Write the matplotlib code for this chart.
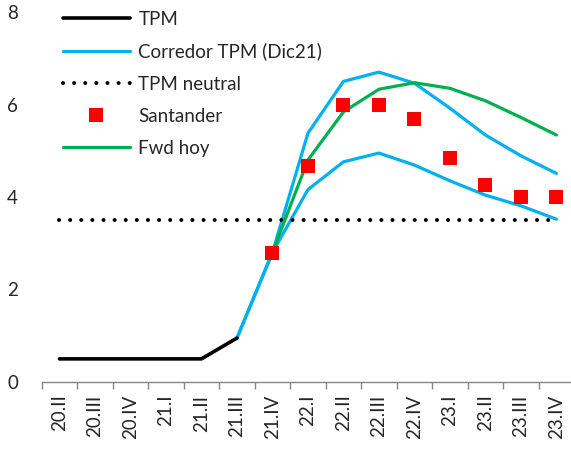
import numpy as np
import matplotlib
matplotlib.use("Agg")
import matplotlib.pyplot as plt

nan = np.nan
categories = ["20.II", "20.III", "20.IV", "21.I", "21.II", "21.III", "21.IV",
              "22.I", "22.II", "22.III", "22.IV", "23.I", "23.II", "23.III", "23.IV"]
tpm = [0.5, 0.5, 0.5, 0.5, 0.5, 0.95, nan, nan, nan, nan, nan, nan, nan, nan, nan]
corr_upper = [nan, nan, nan, nan, nan, 0.95, 2.8, 5.38, 6.5, 6.7, 6.46, 5.92, 5.34, 4.89, 4.51]
corr_lower = [nan, nan, nan, nan, nan, 0.95, 2.8, 4.16, 4.76, 4.95, 4.69, 4.35, 4.04, 3.81, 3.52]
tpm_neutral = [3.5] * 15
santander = [nan, nan, nan, nan, nan, nan, 2.8, 4.68, 6.0, 6.0, 5.69, 4.85, 4.26, 4.0, 4.0]
fwd_hoy = [nan, nan, nan, nan, nan, nan, 2.8, 4.8, 5.84, 6.33, 6.47, 6.35, 6.08, 5.72, 5.34]

plt.rcParams['font.family'] = ['Lato', 'DejaVu Sans']
W, H = 571, 449
fig = plt.figure(figsize=(W / 100, H / 100), dpi=100)
left, right, top, bottom = 41.7, 574.2, 12, 382
ax = fig.add_axes([left / W, 1 - bottom / H, (right - left) / W, (bottom - top) / H])

x = np.arange(len(categories))
blue = "#00B0F0"
green = "#00B050"
text_col = "#262626"

ax.plot(x, tpm, color="black", lw=2.6, solid_capstyle="round", label="TPM", zorder=3)
ax.plot(x, corr_upper, color=blue, lw=2.3, solid_capstyle="round", label="Corredor TPM (Dic21)", zorder=2)
ax.plot(x, corr_lower, color=blue, lw=2.3, solid_capstyle="round", zorder=2)
ax.plot(x, tpm_neutral, color="black", lw=2.9, linestyle=(0, (0.01, 2.75)),
        dash_capstyle="round", label="TPM neutral", zorder=2)
ax.plot(x, santander, linestyle="none", marker="s", markersize=10, color="#FF0000",
        markeredgewidth=0, label="Santander", zorder=4)
ax.plot(x, fwd_hoy, color=green, lw=2.3, solid_capstyle="round", label="Fwd hoy", zorder=3)

ax.set_xlim(-0.5, len(categories) - 0.5)
ax.set_ylim(0, 8)
ax.set_yticks([0, 2, 4, 6, 8])
ax.set_xticks(x)
ax.set_xticklabels(categories, rotation=90)
ax.set_xticks(np.arange(len(categories) + 1) - 0.5, minor=True)
ax.tick_params(axis="x", which="major", length=0, pad=9, labelsize=13.5, labelcolor=text_col)
ax.tick_params(axis="x", which="minor", length=5, width=1, color="#868686", direction="out")
ax.tick_params(axis="y", length=0, pad=17, labelsize=13.5, labelcolor=text_col)

for s in ["top", "right", "left"]:
    ax.spines[s].set_visible(False)
ax.spines["bottom"].set_color("#868686")
ax.spines["bottom"].set_linewidth(1)

leg = ax.legend(loc="upper left", bbox_to_anchor=(0.025, 1.024), frameon=False, fontsize=13.5,
                handlelength=3.6, handletextpad=0.45, labelspacing=0.8, borderaxespad=0)
for t in leg.get_texts():
    t.set_color(text_col)

fig.savefig("out.png", dpi=100)
